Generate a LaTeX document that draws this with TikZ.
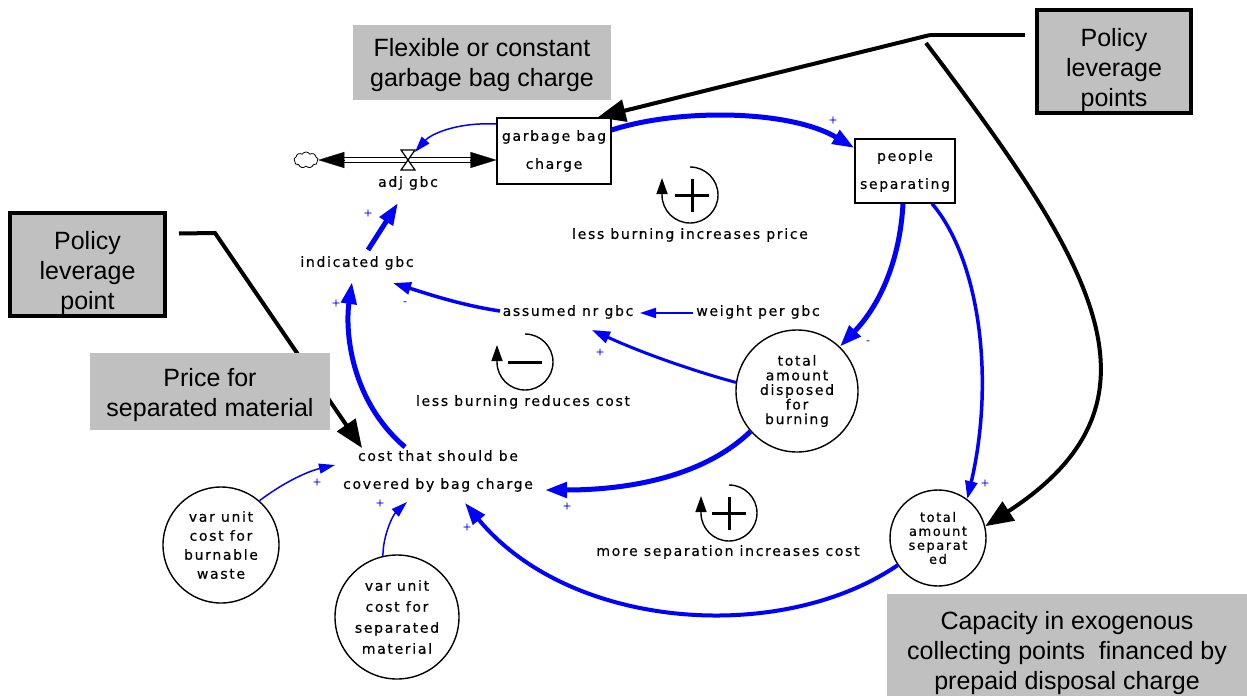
\documentclass[tikz,border=0pt]{standalone}
\usepackage{fontspec}
\setmainfont{Liberation Sans}
\newfontfamily\sdf[LetterSpace=12,FakeBold=0.5]{DejaVu Sans}
\usetikzlibrary{arrows.meta,calc,shapes.symbols}
\definecolor{graybox}{RGB}{192,192,192}
\definecolor{linkblue}{RGB}{0,0,255}
\newcommand{\lowertext}[2]{\raisebox{-#1}[\height][\depth]{\begin{tabular}{@{}c@{}}#2\end{tabular}}}
\begin{document}
\begin{tikzpicture}[x=0.5pt,y=-0.5pt,
  graynote/.style={fill=graybox, inner sep=0, align=center, font=\fontsize{12.5}{15}\selectfont},
  policybox/.style={graynote, draw=black, line width=2pt},
  lbl/.style={font=\sdf\fontsize{7}{14}\selectfont, align=center, inner sep=1pt},
  stockbox/.style={draw, line width=0.6pt, fill=white, align=center, inner sep=0, font=\sdf\fontsize{7}{14}\selectfont},
  aux/.style={circle, draw, line width=0.7pt, fill=white, align=center, inner sep=0},
  lkthick/.style={draw=linkblue, line width=2.5pt, -{Triangle[length=11pt,width=7.5pt]}},
  lkmed/.style={draw=linkblue, line width=1.75pt, -{Triangle[length=9pt,width=6pt]}},
  lkthin/.style={draw=linkblue, line width=0.75pt, -{Triangle[length=8pt,width=5pt]}},
  polarrow/.style={line width=2pt, -{Triangle[length=14pt,width=11pt]}},
  sgn/.style={text=linkblue, font=\sdf\fontsize{5.5}{5.5}\selectfont, inner sep=0},
  looparc/.style={line width=0.7pt, -{Triangle[length=8pt,width=5.5pt]}},
  loopmark/.style={line width=1.5pt},
  pipe/.style={double=white, draw=black, line width=0.6pt, double distance=1.8pt},
  pipetip/.style={line width=0.1pt, -{Triangle[length=13pt,width=8pt]}}
]
\useasboundingbox (0,0) rectangle (1247,696);

% ---- gray notes and policy boxes
\node[graynote, minimum width=129pt, minimum height=37.5pt] (flex) at (482,62.5) {\lowertext{1.5pt}{Flexible or constant\\garbage bag charge}};
\node[policybox, minimum width=77pt, minimum height=51.5pt] (poltop) at (1114,61.5) {\lowertext{4.5pt}{Policy\\leverage\\points}};
\node[policybox, minimum width=77.5pt, minimum height=51.5pt] (polleft) at (87.5,264.5) {\lowertext{4.5pt}{Policy\\leverage\\point}};
\node[graynote, minimum width=180pt, minimum height=51pt] (capacity) at (1067,645) {\lowertext{4pt}{Capacity in exogenous\\collecting points~ financed by\\prepaid disposal charge}};

% ---- model nodes
\node[stockbox, minimum width=57pt, minimum height=33pt] (gbc) at (554,151) {garbage bag\\charge};
\node[stockbox, minimum width=50pt, minimum height=32pt] (people) at (905,171) {people\\separating};
\node[cloud, draw, cloud puffs=9, cloud puff arc=120, aspect=1.5, minimum width=12pt, minimum height=8pt, inner sep=0, line width=0.4pt] (cloud) at (306,160) {};
\coordinate (valve) at (408,160);
\node[lbl] (adj) at (408,183) {adj gbc};
\node[lbl] (ind) at (357,263) {indicated gbc};
\node[lbl] (assumed) at (568,312) {assumed nr gbc};
\node[lbl] (weight) at (758,312) {weight per gbc};
\node[aux, minimum size=61pt, font=\sdf\fontsize{7}{7.3}\selectfont] (burn) at (797,391) {total\\amount\\disposed\\for\\burning};
\node[aux, minimum size=48pt, font=\sdf\fontsize{6.5}{7}\selectfont] (sep) at (938,538) {total\\amount\\separat\\ed};
\node[lbl] (cost) at (438,471) {cost that should be\\covered by bag charge};
\node[aux, minimum size=58pt, font=\sdf\fontsize{7}{9.5}\selectfont] (varburn) at (221,545) {var unit\\cost for\\burnable\\waste};
\node[aux, minimum size=62pt, font=\sdf\fontsize{7}{10.5}\selectfont] (varsep) at (397,617) {var unit\\cost for\\separated\\material};

% ---- flow pipe
\coordinate (pipeL) at (cloud.east |- valve);
\coordinate (pipeR) at (gbc.west |- valve);
\draw[pipe] (valve) -- ($(pipeL)+(20,0)$);
\draw[pipe] (valve) -- ($(pipeR)+(-20,0)$);
\draw[pipetip] ($(pipeL)+(27,0)$) -- (pipeL);
\draw[pipetip] ($(pipeR)+(-26,0)$) -- (pipeR);
\draw[line width=0.6pt, fill=white] ($(valve)+(-7,-10)$) -- ++(14,0) -- ($(valve)+(-7,10)$) -- ++(14,0) -- cycle;

% ---- links
\draw[lkthick] ($(gbc.east)+(0,-21)$) .. controls (680,108) and (790,110) .. ($(people.west)+(0,-23)$);
\draw[lkthin] ($(gbc.west)+(0,-27)$) .. controls (455,122) and (430,135) .. ($(valve)+(7,-8)$);
\draw[lkthick] ($(ind)+(11,-13)$) -- ($(adj)+(-10,20)$);
\draw[lkmed] ($(assumed)+(-68,-1)$) .. controls (460,305) and (425,293) .. ($(ind)+(36,20)$);
\draw[draw=linkblue, line width=1pt, -{Triangle[length=8pt,width=5pt]}] ($(weight)+(-65,1)$) -- ($(assumed)+(72,1)$);
\draw[draw=linkblue, line width=1.5pt, -{Triangle[length=9pt,width=6pt]}] (burn.172) .. controls (690,370) and (640,352) .. ($(assumed)+(24,18)$);
\draw[lkthick] ($(people.south)+(-2,0)$) .. controls (900,260) and (880,305) .. (burn.46);
\draw[lkmed] ($(people.south)+(27,0)$) .. controls (980,260) and (995,380) .. (sep.53);
\draw[lkthick] ($(cost)+(-33,-24)$) .. controls (350,400) and (345,330) .. ($(ind)+(-5,19)$);
\draw[lkthick] (burn.221) .. controls (700,480) and (620,490) .. ($(cost)+(107,19)$);
\draw[draw=linkblue, line width=2pt, -{Triangle[length=11pt,width=7.5pt]}] (sep.214) .. controls (780,645) and (570,630) .. ($(cost)+(27,32)$);
\draw[lkthin] (varburn.49) .. controls (280,485) and (305,472) .. ($(cost)+(-103,-6)$);
\draw[lkthin] (varsep.103) .. controls (383,535) and (393,515) .. ($(cost)+(-31,31)$);

% ---- signs
\node[sgn] (s1) at (833,120) {+};
\node[sgn] (s3) at (368,213) {+};
\node[sgn] (s4) at (405,303) {-};
\node[sgn] (s6) at (600,352) {+};
\node[sgn] (s7) at (868,342) {-};
\node[sgn] (s8) at (985,483) {+};
\node[sgn] (s9) at (336,303) {+};
\node[sgn] (s10) at (567,506) {+};
\node[sgn] (s11) at (467,527) {+};
\node[sgn] (s12) at (317,482) {+};
\node[sgn] (s13) at (380,503) {+};

% ---- loops
\begin{scope}[shift={(690,195)}, yscale=-1]
  \draw[looparc] (0,28) arc[start angle=90, end angle=-180, radius=28] -- ++(0,17);
  \draw[loopmark] (-15,0) -- (19,0) (2,16) -- (2,-17);
\end{scope}
\node[lbl] (r1) at (690,235) {less burning increases price};
\begin{scope}[shift={(525,362)}, yscale=-1]
  \draw[looparc] (0,28) arc[start angle=90, end angle=-180, radius=28] -- ++(0,17);
  \draw[loopmark] (-17,0) -- (17,0);
\end{scope}
\node[lbl] (b1) at (523,402) {less burning reduces cost};
\begin{scope}[shift={(729,513)}, yscale=-1]
  \draw[looparc] (0,28) arc[start angle=90, end angle=-180, radius=28] -- ++(0,17);
  \draw[loopmark] (-17,0) -- (17,0) (0,16) -- (0,-17);
\end{scope}
\node[lbl] (r2) at (728,552) {more separation increases cost};

% ---- policy arrows
\coordinate (ctop) at (930,35);
\coordinate (cbr) at (926,43);
\draw[line width=2pt] (poltop.west |- ctop) ++(-10,0) -- (ctop);
\draw[polarrow] (ctop) -- ($(gbc.north east)+(-14,0)$);
\draw[polarrow] (cbr) .. controls (1090,260) and (1180,400) .. (sep.14);
\coordinate (cleft) at (215,233);
\draw[polarrow] ($(polleft.east)+(12,-31)$) -- (cleft) -- ($(cost)+(-76,-23)$);

% price note drawn over the policy line
\node[graynote, minimum width=120pt, minimum height=38.5pt] (price) at (210,391.5) {\lowertext{2pt}{Price for\\separated material}};
\end{tikzpicture}
\end{document}
